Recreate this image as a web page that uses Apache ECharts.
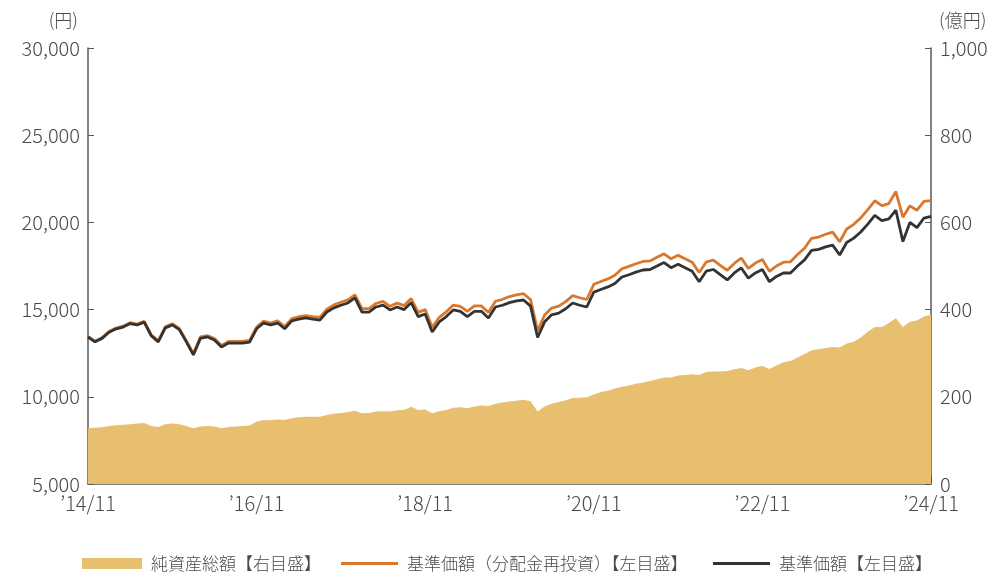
<!DOCTYPE html>
<html>
<head>
<meta charset="utf-8">
<script src="https://cdn.jsdelivr.net/npm/echarts@6/dist/echarts.min.js"></script>
<style>
  html, body { margin: 0; padding: 0; background: #fff; }
  #chart { width: 991px; height: 572px; }
</style>
</head>
<body>
<div id="chart"></div>
<script>
// 月次（2014/11〜2024/11）
const startYear = 2014, startMonth = 11, monthCount = 121;
const tickLabels = ['’14/11', '’16/11', '’18/11', '’20/11', '’22/11', '’24/11'];

// 純資産総額（億円）
const netAssets = [
  128, 129, 130, 133, 135, 136, 137, 139, 140, 133, 131, 137, 139, 137, 133, 128, 132, 133, 132, 128,
  131, 132, 133, 134, 143, 147, 146, 148, 147, 151, 153, 154, 154, 154, 158, 161, 163, 165, 168, 162,
  163, 166, 167, 166, 169, 170, 177, 170, 171, 162, 167, 170, 175, 176, 174, 178, 180, 179, 184, 187,
  189, 191, 193, 190, 166, 178, 184, 188, 192, 197, 198, 199, 205, 211, 214, 219, 223, 226, 230, 233,
  236, 240, 244, 244, 249, 250, 252, 250, 257, 258, 258, 259, 263, 266, 261, 267, 271, 264, 272, 279,
  282, 290, 298, 307, 309, 312, 314, 313, 322, 326, 336, 349, 360, 360, 369, 380, 360, 372, 375, 384,
  388
];

// 基準価額（分配金再投資）（円）
const navReinvested = [
  13460, 13180, 13390, 13740, 13940, 14050, 14250, 14170, 14330, 13560, 13210, 14010, 14190, 13920, 13220, 12480, 13430, 13510, 13340, 12940,
  13170, 13170, 13180, 13240, 14000, 14340, 14230, 14350, 14020, 14480, 14590, 14660, 14600, 14550, 15020, 15270, 15420, 15560, 15850, 15050,
  15060, 15350, 15470, 15190, 15370, 15230, 15630, 14840, 15000, 13980, 14560, 14870, 15260, 15190, 14900, 15210, 15210, 14840, 15480, 15590,
  15750, 15850, 15910, 15570, 13780, 14690, 15090, 15200, 15460, 15800, 15680, 15580, 16450, 16610, 16760, 16970, 17340, 17480, 17630, 17760,
  17790, 18000, 18200, 17910, 18110, 17920, 17720, 17130, 17730, 17840, 17540, 17250, 17650, 17950, 17360, 17670, 17870, 17190, 17500, 17720,
  17740, 18160, 18520, 19090, 19160, 19320, 19440, 18890, 19620, 19890, 20260, 20730, 21240, 20960, 21080, 21770, 20300, 20950, 20700, 21200,
  21250
];

// 基準価額（円）
const nav = [
  13430, 13150, 13350, 13700, 13900, 14000, 14200, 14120, 14280, 13500, 13150, 13950, 14120, 13850, 13150, 12400, 13350, 13430, 13260, 12850,
  13080, 13080, 13080, 13140, 13900, 14230, 14120, 14230, 13900, 14350, 14450, 14520, 14450, 14400, 14860, 15100, 15250, 15380, 15670, 14860,
  14860, 15150, 15260, 14980, 15150, 15000, 15400, 14600, 14750, 13720, 14290, 14600, 14980, 14900, 14600, 14900, 14900, 14520, 15150, 15250,
  15400, 15500, 15550, 15200, 13400, 14300, 14700, 14800, 15050, 15380, 15250, 15150, 16000, 16150, 16300, 16500, 16870, 17000, 17150, 17270,
  17300, 17500, 17700, 17400, 17600, 17400, 17200, 16600, 17200, 17300, 17000, 16700, 17100, 17390, 16800, 17100, 17300, 16600, 16900, 17100,
  17100, 17500, 17850, 18400, 18450, 18600, 18700, 18130, 18850, 19100, 19450, 19900, 20400, 20100, 20200, 20700, 18900, 20000, 19700, 20250,
  20350
];

const months = [];
for (let i = 0; i < monthCount; i++) {
  const m = (startMonth - 1 + i) % 12 + 1;
  const y = startYear + Math.floor((startMonth - 1 + i) / 12);
  months.push(y + '/' + (m < 10 ? '0' + m : m));
}

const font = '"Noto Sans CJK JP", "Noto Sans", sans-serif';
const axisColor = '#595959';
const textColor = '#4a4a4a';

const chart = echarts.init(document.getElementById('chart'));
chart.setOption({
  animation: false,
  grid: { left: 88, right: 60, top: 48, bottom: 88 },
  legend: [
    {
      left: 77, top: 550, icon: 'rect', itemWidth: 60, itemHeight: 11, itemGap: 0,
      textStyle: { fontFamily: font, fontSize: 17, fontWeight: 300, color: textColor, padding: [0, 0, 0, 4] },
      data: ['純資産総額【右目盛】']
    },
    {
      left: 336, top: 550, icon: 'rect', itemWidth: 57, itemHeight: 3,
      textStyle: { fontFamily: font, fontSize: 17, fontWeight: 300, color: textColor, padding: [0, 0, 0, 4] },
      data: ['基準価額（分配金再投資）【左目盛】']
    },
    {
      left: 708, top: 550, icon: 'rect', itemWidth: 57, itemHeight: 3,
      textStyle: { fontFamily: font, fontSize: 17, fontWeight: 300, color: textColor, padding: [0, 0, 0, 4] },
      data: ['基準価額【左目盛】']
    }
  ],
  xAxis: {
    type: 'category',
    data: months,
    boundaryGap: false,
    axisLine: { lineStyle: { color: axisColor, width: 1.5 } },
    axisTick: { inside: true, interval: 23, length: 8, lineStyle: { color: axisColor } },
    axisLabel: {
      interval: 23, margin: 9,
      fontFamily: font, fontSize: 20, fontWeight: 300, color: textColor,
      formatter: (v, idx) => tickLabels[idx / 24]
    }
  },
  yAxis: [
    {
      type: 'value', min: 5000, max: 30000, interval: 5000,
      name: '(円)', nameLocation: 'end', nameGap: 28,
      nameTextStyle: { fontFamily: font, fontSize: 18, fontWeight: 300, color: textColor, align: 'right', verticalAlign: 'middle', padding: [0, 10, 0, 0] },
      axisLine: { show: true, lineStyle: { color: axisColor, width: 1.5 } },
      axisTick: { show: true, inside: true, length: 6, lineStyle: { color: axisColor } },
      splitLine: { show: false },
      axisLabel: {
        margin: 8, fontFamily: font, fontSize: 20, fontWeight: 300, color: textColor,
        formatter: v => v.toLocaleString('en-US')
      }
    },
    {
      type: 'value', min: 0, max: 1000, interval: 200,
      name: '(億円)', nameLocation: 'end', nameGap: 28,
      nameTextStyle: { fontFamily: font, fontSize: 18, fontWeight: 300, color: textColor, align: 'left', verticalAlign: 'middle', padding: [0, 0, 0, 8] },
      axisLine: { show: true, lineStyle: { color: axisColor, width: 1.5 } },
      axisTick: { show: true, inside: true, length: 6, lineStyle: { color: axisColor } },
      splitLine: { show: false },
      axisLabel: {
        margin: 9, fontFamily: font, fontSize: 20, fontWeight: 300, color: textColor,
        formatter: v => v.toLocaleString('en-US')
      }
    }
  ],
  series: [
    {
      name: '純資産総額【右目盛】', type: 'line', yAxisIndex: 1, data: netAssets,
      showSymbol: false, symbol: 'none',
      itemStyle: { color: '#E8BF6E' },
      lineStyle: { width: 0, color: '#E8BF6E' },
      areaStyle: { color: '#E8BF6E', opacity: 1 }
    },
    {
      name: '基準価額（分配金再投資）【左目盛】', type: 'line', yAxisIndex: 0, data: navReinvested,
      showSymbol: false, symbol: 'none',
      itemStyle: { color: '#D9782D' },
      lineStyle: { width: 2.8, color: '#D9782D' }
    },
    {
      name: '基準価額【左目盛】', type: 'line', yAxisIndex: 0, data: nav,
      showSymbol: false, symbol: 'none',
      itemStyle: { color: '#333333' },
      lineStyle: { width: 2.8, color: '#333333' }
    }
  ]
});
</script>
</body>
</html>
